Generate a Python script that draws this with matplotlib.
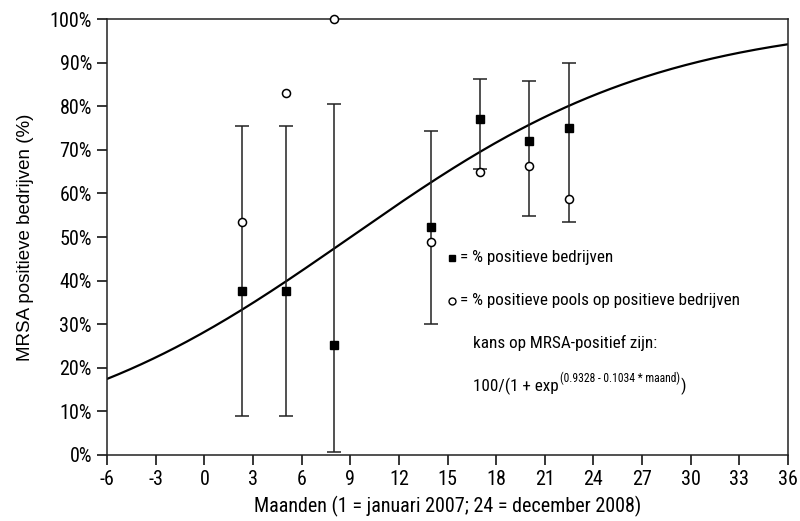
import numpy as np
import matplotlib
matplotlib.use("Agg")
import matplotlib.pyplot as plt
from matplotlib import font_manager
from matplotlib.transforms import offset_copy

names = {f.name for f in font_manager.fontManager.ttflist}
cond = 'Liberation Sans Narrow' if 'Liberation Sans Narrow' in names else 'Roboto Condensed' if 'Roboto Condensed' in names else 'Liberation Sans'

# Data
maand = [2.33, 5.0, 8.0, 14.0, 17.0, 20.0, 22.5]
pos_bedrijven = [37.6, 37.5, 25.2, 52.3, 77.1, 72.1, 74.9]
ci_low = [8.9, 8.9, 0.8, 30.0, 65.5, 54.8, 53.5]
ci_high = [75.5, 75.4, 80.6, 74.2, 86.2, 85.8, 90.0]
pos_pools = [53.4, 83.1, 100.0, 48.9, 65.0, 66.4, 58.8]
coef_a = 0.9328
coef_b = 0.1034
xticks = list(range(-6, 37, 3))
yticks = list(range(0, 101, 10))

fig = plt.figure(figsize=(8, 5.21), dpi=100)
ax = fig.add_axes([0.134, 0.1267, 0.851, 0.8368])

xc = np.linspace(-6, 36, 300)
yc = 100 / (1 + np.exp(coef_a - coef_b * xc))
ax.plot(xc, yc, color='black', lw=1.6, zorder=2)

m = np.array(maand); p = np.array(pos_bedrijven)
lo = np.array(ci_low); hi = np.array(ci_high)
ax.errorbar(m, p, yerr=[p - lo, hi - p], fmt='none', ecolor='#222222',
            elinewidth=1.1, capsize=5, capthick=1.1, zorder=3)
ax.plot(m, p, 's', color='black', ms=5.5, zorder=5, clip_on=False)
ax.plot(m, pos_pools, 'o', mfc='white', mec='black', mew=1.1, ms=5.8, zorder=5, clip_on=False)

ax.set_xlim(-6, 36)
ax.set_ylim(0, 100)
ax.set_xticks(xticks)
ax.set_xticklabels([str(t) for t in xticks])
ax.set_yticks(yticks)
ax.set_yticklabels([f"{t}%" for t in yticks])
ax.tick_params(direction='out', length=7, width=1.1, labelsize=14.5, pad=4)
for lab in ax.get_xticklabels() + ax.get_yticklabels():
    lab.set_family(cond)
for s in ax.spines.values():
    s.set_linewidth(1.1)
    s.set_color('#222222')

ax.set_xlabel("Maanden (1 = januari 2007; 24 = december 2008)", family=cond, fontsize=14.5, labelpad=5)
ax.set_ylabel("MRSA positieve bedrijven (%)", family='Liberation Sans', fontsize=13.5, labelpad=11)

fs = 12.3
ax.plot([15.28], [45.2], 's', color='black', ms=5)
ax.text(15.75, 45.2, "= % positieve bedrijven", family=cond, fontsize=fs, va='center')
ax.plot([15.28], [35.4], 'o', mfc='white', mec='black', mew=1, ms=5)
ax.text(15.75, 35.4, "= % positieve pools op positieve bedrijven", family=cond, fontsize=fs, va='center')
ax.text(16.58, 25.6, "kans op MRSA-positief zijn:", family=cond, fontsize=fs, va='center')

t1 = ax.text(16.58, 15.8, "100/(1 + exp", family=cond, fontsize=fs, va='center')
fig.canvas.draw()
r = fig.canvas.get_renderer()
bb = t1.get_window_extent(r)
inv = ax.transData.inverted()
x2 = inv.transform((bb.x1, bb.y0))[0]
t2 = ax.text(x2, 15.8, "(0.9328 - 0.1034 * maand)", family=cond, fontsize=fs * 0.68,
             va='center', transform=offset_copy(ax.transData, fig=fig, x=0.5, y=5.5, units='points'))
fig.canvas.draw()
bb2 = t2.get_window_extent(r)
x3 = inv.transform((bb2.x1, bb2.y0))[0]
ax.text(x3, 15.8, ")", family=cond, fontsize=fs, va='center',
        transform=offset_copy(ax.transData, fig=fig, x=0.5, y=0, units='points'))

fig.savefig("out.png", dpi=100)
